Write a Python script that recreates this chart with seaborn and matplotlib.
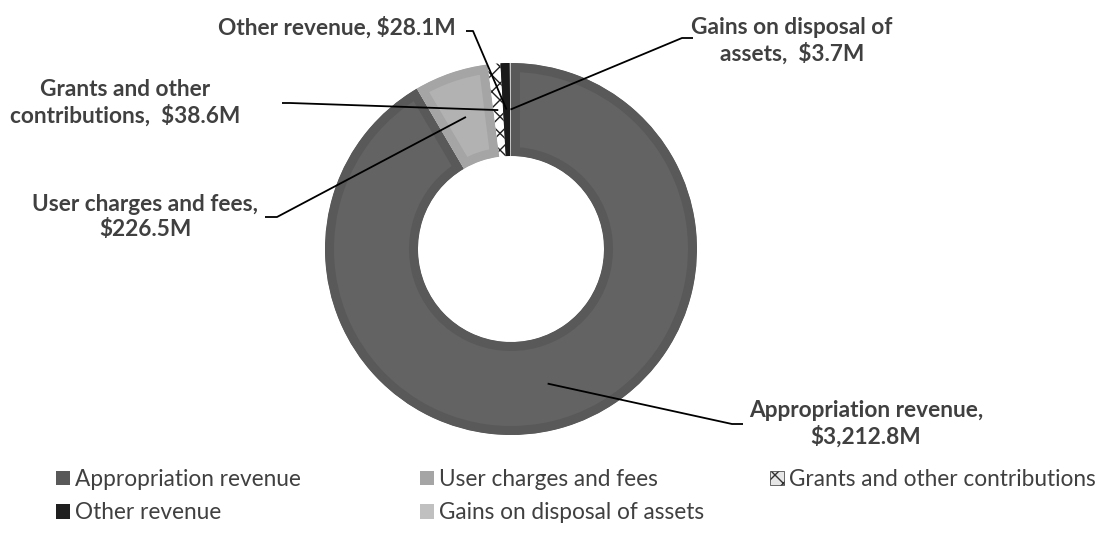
import matplotlib
matplotlib.use("Agg")
import matplotlib.pyplot as plt
import seaborn as sns
import numpy as np
from matplotlib.patches import Patch
from matplotlib.lines import Line2D
from matplotlib.transforms import IdentityTransform

# ---- data ----
categories = ["Appropriation revenue", "User charges and fees",
              "Grants and other contributions", "Other revenue",
              "Gains on disposal of assets"]
values = [3212.8, 226.5, 38.6, 28.1, 3.7]
label_texts = ["Appropriation revenue,\n$3,212.8M",
               "User charges and fees,\n$226.5M",
               "Grants and other\ncontributions,  $38.6M",
               "Other revenue, $28.1M",
               "Gains on disposal of\nassets,  $3.7M"]

# ---- styles ----
fill_colors = ["#636363", "#b2b2b2", "#ffffff", "#222222", "#cbcbcb"]
border_colors = ["#595959", "#a5a5a5", "#202020", "#1a1a1a", "#c4c4c4"]
legend_colors = ["#595959", "#a5a5a5", "#e6e6e6", "#1f1f1f", "#c0c0c0"]
hatches = [None, None, "xx", None, None]

sns.set_theme(style="white")
plt.rcParams["font.family"] = ["Lato", "DejaVu Sans"]
plt.rcParams["hatch.linewidth"] = 1.0

W, H = 1116, 535
fig = plt.figure(figsize=(W / 100, H / 100), dpi=100)
fig.patch.set_facecolor("white")

cx, cy, R = 511, 249, 186  # pixel center (top-based) and radius
ax = fig.add_axes([(cx - R) / W, (H - cy - R) / H, 2 * R / W, 2 * R / H])

wedges, _ = ax.pie(values, startangle=90, counterclock=False, radius=1.0,
                   wedgeprops=dict(width=0.5))
ax.set_xlim(-1, 1)
ax.set_ylim(-1, 1)
ax.set_axis_off()

border_px = 9
for w, fc, ec, h in zip(wedges, fill_colors, border_colors, hatches):
    w.set_facecolor(fc)
    w.set_edgecolor(ec)
    if h:
        w.set_hatch(h)
        w.set_linewidth(0)
    else:
        w.set_linewidth(2 * border_px * 0.72)
        w.set_clip_on(True)
        w.set_clip_path(w)

# ---- labels & leader lines ----
txt_color = "#404040"
fs = 16.3
label_specs = [
    dict(x=866, y=424, ha="center", elbow=[(743, 424), (732, 424)]),
    dict(x=145, y=217, ha="center", elbow=[(265, 217), (277, 217)]),
    dict(x=125, y=103, ha="center", elbow=[(282, 103), (290, 103)]),
    dict(x=456, y=28, ha="right", elbow=[(466, 31), (473, 31)]),
    dict(x=792, y=41, ha="center", elbow=[(693, 38), (682, 38)]),
]

fig.canvas.draw()
for w, txt, spec in zip(wedges, label_texts, label_specs):
    fig.text(spec["x"] / W, 1 - spec["y"] / H, txt, ha=spec["ha"], va="center",
             fontsize=fs, fontweight="bold", color=txt_color,
             linespacing=1.25, multialignment="center")
    mid = np.deg2rad((w.theta1 + w.theta2) / 2)
    end = ax.transData.transform((0.75 * np.cos(mid), 0.75 * np.sin(mid)))
    xs = [p[0] for p in spec["elbow"]] + [end[0]]
    ys = [H - p[1] for p in spec["elbow"]] + [end[1]]
    fig.add_artist(Line2D(xs, ys, transform=IdentityTransform(),
                          color="black", lw=1.3, solid_capstyle="butt"))

# ---- legend: three columns, row-major order ----
handles = []
for c, h in zip(legend_colors, hatches):
    if h:
        handles.append(Patch(facecolor=c, edgecolor="#303030", hatch="xx", lw=0.5))
    else:
        handles.append(Patch(facecolor=c, edgecolor=c, lw=0))
columns = [[0, 3], [1, 4], [2]]
col_x = [56, 420, 770]
for idxs, x0 in zip(columns, col_x):
    leg = fig.legend([handles[i] for i in idxs], [categories[i] for i in idxs],
                     loc="upper left", bbox_to_anchor=(x0 / W, 1 - 469 / H),
                     frameon=False, fontsize=fs, borderpad=0, borderaxespad=0,
                     handlelength=0.62, handleheight=0.62, handletextpad=0.22,
                     labelspacing=0.55)
    for t in leg.get_texts():
        t.set_color(txt_color)

fig.savefig("out.png", dpi=100, facecolor="white")
